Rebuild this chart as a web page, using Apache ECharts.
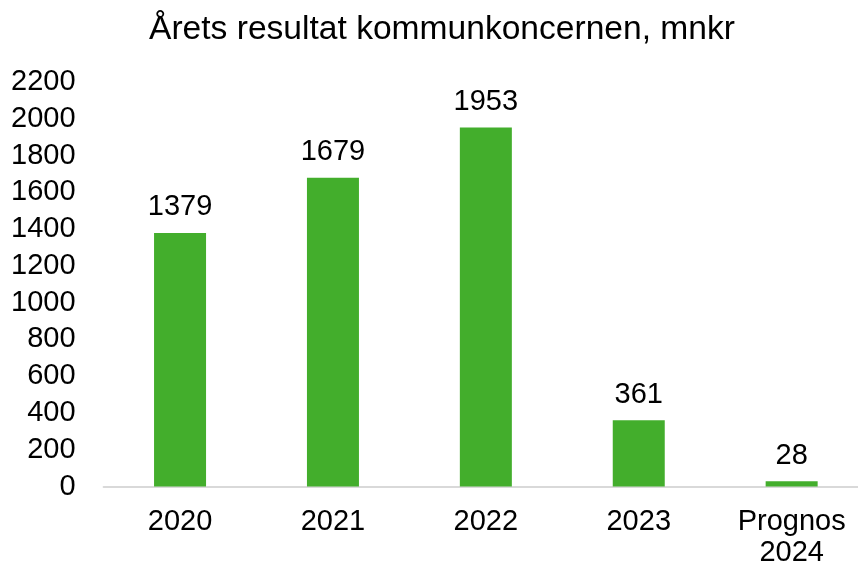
<!DOCTYPE html>
<html>
<head>
<meta charset="utf-8">
<script src="https://cdn.jsdelivr.net/npm/echarts@6/dist/echarts.min.js"></script>
<style>
  html, body { margin: 0; padding: 0; background: #fff; }
  #chart { width: 858px; height: 566px; }
</style>
</head>
<body>
<div id="chart"></div>
<script>
const categories = ["2020", "2021", "2022", "2023", "Prognos\n2024"];
const results = [1379, 1679, 1953, 361, 28];
const yTicks = [0, 200, 400, 600, 800, 1000, 1200, 1400, 1600, 1800, 2000, 2200];

const font = "Liberation Sans, Arial, sans-serif";
const chart = echarts.init(document.getElementById("chart"));
chart.setOption({
  animation: false,
  title: {
    text: "Årets resultat kommunkoncernen, mnkr",
    left: 437,
    textAlign: "center",
    top: 8,
    textStyle: { fontFamily: font, fontSize: 33.6, fontWeight: "normal", color: "#000" },
  },
  grid: {
    left: 103.6,
    top: 82,
    width: 764.5,
    height: 404.5,
    containLabel: false,
    outerBoundsMode: "none",
  },
  xAxis: {
    type: "category",
    data: categories,
    axisLine: { lineStyle: { color: "#d9d9d9", width: 2 } },
    axisTick: { show: false },
    axisLabel: { fontFamily: font, fontSize: 29, color: "#000", margin: 20, lineHeight: 31 },
  },
  yAxis: {
    type: "value",
    min: yTicks[0],
    max: yTicks[yTicks.length - 1],
    interval: 200,
    splitLine: { show: false },
    axisLine: { show: false },
    axisTick: { show: false },
    axisLabel: {
      fontFamily: font,
      fontSize: 29,
      color: "#000",
      margin: 28,
      formatter: (v) => String(v),
    },
  },
  series: [
    {
      type: "bar",
      data: results,
      barWidth: 52,
      itemStyle: { color: "#43AE2C" },
      label: {
        show: true,
        position: "top",
        distance: 11,
        fontFamily: font,
        fontSize: 29,
        color: "#000",
      },
    },
  ],
});
</script>
</body>
</html>
